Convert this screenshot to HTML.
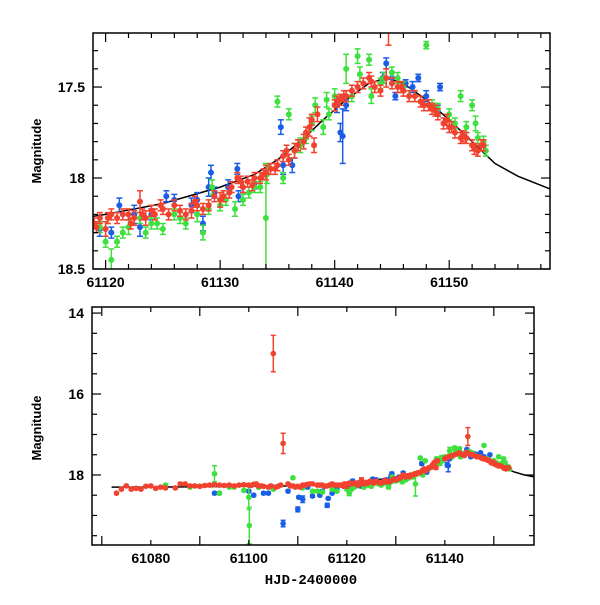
<!DOCTYPE html>
<html><head><meta charset="utf-8"><style>
body{margin:0;background:#fff}
svg{font-family:"Liberation Sans",sans-serif;font-weight:bold}
</style></head><body>
<svg id="chart" width="600" height="600" viewBox="0 0 600 600" xmlns="http://www.w3.org/2000/svg">
<defs>
<clipPath id="c1"><rect x="93" y="33" width="457" height="236"/></clipPath>
<clipPath id="c2"><rect x="92" y="307" width="442" height="238"/></clipPath>
</defs>
<g id="top"></g>
<g id="bot"></g>
<text x="0" y="0" transform="translate(41,151) rotate(-90)" text-anchor="middle" font-size="13">Magnitude</text>
<text x="0" y="0" transform="translate(41,428) rotate(-90)" text-anchor="middle" font-size="13">Magnitude</text>
<text x="311" y="584" text-anchor="middle" font-size="14" font-family="Liberation Mono, monospace">HJD-2400000</text>
</svg>
<script>
// model curve
const modelT=[61072,61080,61090,61100,61110,61115,61120,61125,61130,61133,61135,61137,61139,61141,61143,61144.5,61146,61148,61150,61152,61154,61156,61158.8];
const modelM=[18.3,18.3,18.29,18.28,18.27,18.25,18.2,18.14,18.05,17.98,17.9,17.8,17.68,17.57,17.48,17.45,17.48,17.57,17.68,17.8,17.92,17.99,18.06];
// red series
const redT=[61073,61074,61075,61076,61077,61078,61079,61080,61081,61082,61083,61085,61086,61087,61088,61089,61090,61091,61092,61093,61094,61095,61096,61097,61098,61099,61100,61101,61102,61103,61104,61105,61106,61107,61108,61109,61110,61111,61112,61113,61114,61115,61116,61117,61118,61119,61119.5,61120,61120.5,61121,61122,61122.5,61123,61123.5,61124,61125,61125.5,61126.5,61127.5,61128,61128.5,61129.5,61130,61130.8,61131.5,61132,61132.8,61133.5,61134,61134.8,61135.5,61136.5,61137.3,61137.8,61138.2,61138.5,61140,61140.5,61141,61142,61143,61143.5,61144,61144.5,61144.7,61145.5,61146,61147,61147.5,61148.5,61149,61149.5,61150,61150.5,61151.2,61152,61152.5,61153,
 61119.2,61120.2,61121.5,61122.2,61123.2,61124.3,61124.8,61126,61127,61127.8,61129,61130.3,61131,61131.8,61132.4,61133,61133.8,61134.4,61135,61135.8,61136,61136.8,61137.5,61138,61140.2,61140.8,61141.5,61142.5,61143.2,61145,61145.8,61146.5,61147.8,61148.2,61148.8,61149.8,61150.2,61151,61151.5,61152.2,61152.8,
 61100.5,61101.5,61102.5,61104.5,61105.5,61106.5,61108.5,61109.5,61110.5,61111.5,61112.5,61114.5,61115.5,61116.5,61117.5,61118.5];
const redM=[18.45,18.35,18.27,18.35,18.33,18.35,18.28,18.27,18.33,18.3,18.32,18.32,18.22,18.22,18.27,18.27,18.28,18.26,18.25,18.24,18.25,18.26,18.25,18.27,18.25,18.24,18.25,18.23,18.27,18.28,18.3,15.0,18.28,17.22,18.22,18.27,18.28,18.25,18.23,18.22,18.25,18.25,18.27,18.22,18.25,18.25,18.22,18.28,18.2,18.22,18.2,18.22,18.13,18.22,18.18,18.17,18.2,18.18,18.18,18.15,18.17,18.1,18.12,18.08,18.0,18.05,18.04,18.0,17.97,17.95,17.88,17.85,17.8,17.72,17.82,17.65,17.6,17.57,17.55,17.5,17.45,17.5,17.52,17.45,17.05,17.5,17.52,17.55,17.58,17.62,17.65,17.7,17.72,17.75,17.77,17.82,17.85,17.82,
 18.27,18.22,18.2,18.25,18.2,18.2,18.15,18.15,18.2,18.13,18.15,18.1,18.05,18.02,18.02,18.0,17.98,17.95,17.93,17.85,17.9,17.82,17.75,17.68,17.58,17.55,17.52,17.48,17.47,17.48,17.5,17.55,17.6,17.6,17.63,17.68,17.72,17.78,17.78,17.84,17.82,
 18.26,18.22,18.27,18.27,18.3,18.25,18.27,18.3,18.3,18.25,18.22,18.25,18.28,18.25,18.25,18.25];
const redE=[0.03,0.03,0.03,0.03,0.03,0.03,0.03,0.03,0.03,0.03,0.03,0.03,0.03,0.03,0.03,0.03,0.03,0.03,0.03,0.03,0.03,0.03,0.03,0.03,0.03,0.03,0.03,0.03,0.03,0.03,0.03,0.45,0.03,0.25,0.03,0.03,0.03,0.03,0.03,0.03,0.03,0.03,0.03,0.03,0.03,0.03,0.03,0.04,0.03,0.03,0.03,0.04,0.06,0.04,0.03,0.03,0.03,0.03,0.04,0.03,0.03,0.03,0.04,0.03,0.03,0.03,0.03,0.03,0.04,0.03,0.03,0.04,0.04,0.05,0.04,0.04,0.03,0.03,0.03,0.03,0.03,0.03,0.03,0.05,0.22,0.03,0.03,0.03,0.03,0.03,0.03,0.03,0.03,0.03,0.03,0.03,0.03,0.03,
 0.03,0.03,0.03,0.03,0.03,0.03,0.03,0.03,0.03,0.03,0.03,0.03,0.03,0.03,0.03,0.03,0.03,0.03,0.03,0.03,0.03,0.03,0.03,0.03,0.03,0.03,0.03,0.03,0.03,0.03,0.03,0.03,0.03,0.03,0.03,0.03,0.03,0.03,0.03,0.03,0.03,
 0.03,0.03,0.03,0.03,0.03,0.03,0.03,0.03,0.03,0.03,0.03,0.03,0.03,0.03,0.03,0.03];
// green series
const greenT=[61083,61088,61093,61094,61097,61099,61100,61100.1,61105,61109,61113,61115,61119.5,61120.5,61121,61122,61123,61124,61125,61126,61127,61128,61129,61129.3,61130.5,61131.3,61132.5,61133.5,61134,61134.1,61135,61135.5,61136,61137,61138,61138.3,61139,61139.3,61140,61141,61142,61142.2,61143,61143.2,61144,61145,61145.5,61147,61148,61148.5,61149,61150,61151,61152,61152.3,61152.5,61153,
 61120,61121.5,61123.5,61124.5,61126.5,61128.5,61130,61132,61133,61136.5,61137.5,61139.5,61141.5,61144.3,61146,61148.8,61150.5,61151.5,61153.2,61090,61096,61102,61111,61114,61117,61118];
const greenM=[18.25,18.3,17.97,18.45,18.3,18.38,18.55,19.25,18.35,18.07,18.4,18.42,18.27,18.45,18.35,18.27,18.22,18.25,18.28,18.2,18.25,18.2,18.17,18.05,18.12,18.17,18.08,18.05,18.22,17.98,17.58,18.0,17.65,17.82,17.7,17.6,17.72,17.57,17.55,17.4,17.33,17.43,17.35,17.55,17.48,17.42,17.45,17.55,17.27,17.6,17.62,17.65,17.55,17.6,17.7,17.78,17.8,
 18.35,18.3,18.3,18.25,18.22,18.3,18.15,18.12,18.05,17.85,17.78,17.65,17.55,17.45,17.5,17.62,17.7,17.72,17.85,18.28,18.3,18.3,18.32,18.4,18.35,18.4];
const greenE=[0.03,0.03,0.2,0.03,0.03,0.03,0.3,0.45,0.03,0.03,0.03,0.03,0.03,0.06,0.03,0.04,0.03,0.03,0.03,0.03,0.03,0.04,0.03,0.04,0.03,0.04,0.03,0.03,0.3,0.05,0.03,0.03,0.03,0.04,0.04,0.04,0.04,0.04,0.04,0.08,0.04,0.04,0.03,0.04,0.03,0.03,0.03,0.03,0.02,0.03,0.03,0.03,0.03,0.03,0.04,0.03,0.03,
 0.03,0.03,0.03,0.03,0.03,0.04,0.03,0.03,0.03,0.04,0.03,0.03,0.03,0.03,0.03,0.03,0.03,0.03,0.03,0.03,0.03,0.03,0.03,0.03,0.03,0.03];
// blue series
const blueT=[61093,61094,61100,61101,61103,61104,61107,61110,61110.2,61111,61113,61116,61116.2,61117,61118,61119.5,61121.2,61122.5,61123,61125.3,61127.5,61128,61128.5,61129,61129.2,61130.7,61131.5,61131.6,61135.3,61135.5,61136.3,61140.2,61140.5,61140.7,61144.2,61144.5,61145.3,61146.2,61147.3,61149.2,61149,
 61120.5,61124,61126,61129.5,61132,61133,61136.8,61141,61145,61146.8,61148,61102,61105,61108,61112,61114.5,61115];
const blueM=[18.45,18.45,18.4,18.5,18.45,18.45,19.2,18.85,18.55,18.6,18.52,18.75,18.58,18.45,18.35,18.28,18.15,18.2,18.27,18.1,18.15,18.12,18.25,18.05,17.97,18.05,17.95,18.1,17.72,17.93,17.93,17.6,17.75,17.77,17.45,17.37,17.55,17.48,17.45,17.5,17.63,
 18.3,18.2,18.12,18.08,18.05,18.03,17.82,17.6,17.45,17.5,17.55,18.3,18.3,18.4,18.3,18.5,18.4];
const blueE=[0.03,0.03,0.03,0.03,0.03,0.03,0.08,0.06,0.03,0.08,0.03,0.05,0.03,0.03,0.03,0.04,0.04,0.05,0.05,0.03,0.04,0.04,0.04,0.05,0.04,0.04,0.03,0.03,0.04,0.05,0.04,0.04,0.05,0.15,0.03,0.03,0.02,0.02,0.02,0.02,0.03,
 0.03,0.03,0.03,0.03,0.03,0.03,0.03,0.03,0.03,0.03,0.03,0.03,0.03,0.03,0.03,0.03,0.03];

const NS="http://www.w3.org/2000/svg";
function mk(tag,at,parent){const e=document.createElementNS(NS,tag);for(const k in at)e.setAttribute(k,at[k]);parent.appendChild(e);return e;}

const panels=[
 {g:document.getElementById('top'),clip:'url(#c1)',x0:93,x1:550,y0:33,y1:269,t0:61118.9,t1:61158.8,m0:17.203,m1:18.5,
  xMinor:2,xMajor:10,xFirst:61120,yMinor:0.1,yMajor:0.5,yFirst:17.3,yLabels:[17.5,18,18.5],xLabels:[61120,61130,61140,61150],r:3,cap:3},
 {g:document.getElementById('bot'),clip:'url(#c2)',x0:92,x1:534,y0:307,y1:545,t0:61068,t1:61158.2,m0:13.85,m1:19.73,
  xMinor:10,xMajor:20,xFirst:61070,yMinor:0.5,yMajor:2,yFirst:14,yLabels:[14,16,18],xLabels:[61080,61100,61120,61140],r:2.8,cap:2.5}
];
const series=[
 {t:blueT,m:blueM,e:blueE,c:'#1a5ee8',n:'blue'},
 {t:greenT,m:greenM,e:greenE,c:'#3ee03e',n:'green'},
 {t:redT,m:redM,e:redE,c:'#f2412e',n:'red'}
];
panels.forEach((p,pi)=>{
 const X=t=>p.x0+(t-p.t0)/(p.t1-p.t0)*(p.x1-p.x0);
 const Y=m=>p.y0+(m-p.m0)/(p.m1-p.m0)*(p.y1-p.y0);
 const data=mk('g',{'clip-path':p.clip},p.g);
 
 
 let d='';modelT.forEach((t,i)=>{d+=(i?'L':'M')+X(t).toFixed(1)+','+Y(modelM[i]).toFixed(1);});
 const ml=mk('path',{d:d,fill:'none',stroke:'#000','stroke-width':1.5},data);
 
 
 series.forEach(s=>{
  s.t.forEach((t,i)=>{
   const x=X(t),y=Y(s.m[i]),ya=Y(s.m[i]-s.e[i]),yb=Y(s.m[i]+s.e[i]);
   const g=mk('g',{stroke:s.c,fill:s.c,'stroke-width':1.5},data);
   
   
   mk('line',{x1:x,x2:x,y1:ya,y2:yb},g);
   mk('line',{x1:x-p.cap,x2:x+p.cap,y1:ya,y2:ya},g);
   mk('line',{x1:x-p.cap,x2:x+p.cap,y1:yb,y2:yb},g);
   mk('circle',{cx:x,cy:y,r:p.r,stroke:'none'},g);
  });
 });
 const fr=mk('rect',{x:p.x0,y:p.y0,width:p.x1-p.x0,height:p.y1-p.y0,fill:'none',stroke:'#000','stroke-width':1.5},p.g);
 
 
 for(let t=p.xFirst-Math.floor((p.xFirst-p.t0)/p.xMinor)*p.xMinor;t<=p.t1;t+=p.xMinor){
  const x=X(t);const maj=Math.abs(((t-p.xFirst)%p.xMajor+p.xMajor)%p.xMajor)<1e-6;const L=maj?9:5;
  mk('line',{x1:x,x2:x,y1:p.y1,y2:p.y1-L,stroke:'#000','stroke-width':1.2},p.g);
  mk('line',{x1:x,x2:x,y1:p.y0,y2:p.y0+L,stroke:'#000','stroke-width':1.2},p.g);
 }
 p.xLabels.forEach(v=>{const tx=mk('text',{x:X(v),y:p.y1+18,'text-anchor':'middle','font-size':14},p.g);tx.textContent=v;
  });
 for(let m=p.m0-((p.m0-p.yFirst)%p.yMinor);m<=p.m1+1e-6;m+=p.yMinor){
  const mm=Math.round(m*100)/100;if(mm<p.m0)continue;const y=Y(mm);
  const maj=Math.abs(mm/p.yMajor-Math.round(mm/p.yMajor))<1e-6;const L=maj?9:5;
  mk('line',{x1:p.x0,x2:p.x0+L,y1:y,y2:y,stroke:'#000','stroke-width':1.2},p.g);
  mk('line',{x1:p.x1,x2:p.x1-L,y1:y,y2:y,stroke:'#000','stroke-width':1.2},p.g);
 }
 p.yLabels.forEach(v=>{const tx=mk('text',{x:p.x0-8,y:Y(v)+5,'text-anchor':'end','font-size':14},p.g);tx.textContent=v;
  });
});
</script>
</body></html>
